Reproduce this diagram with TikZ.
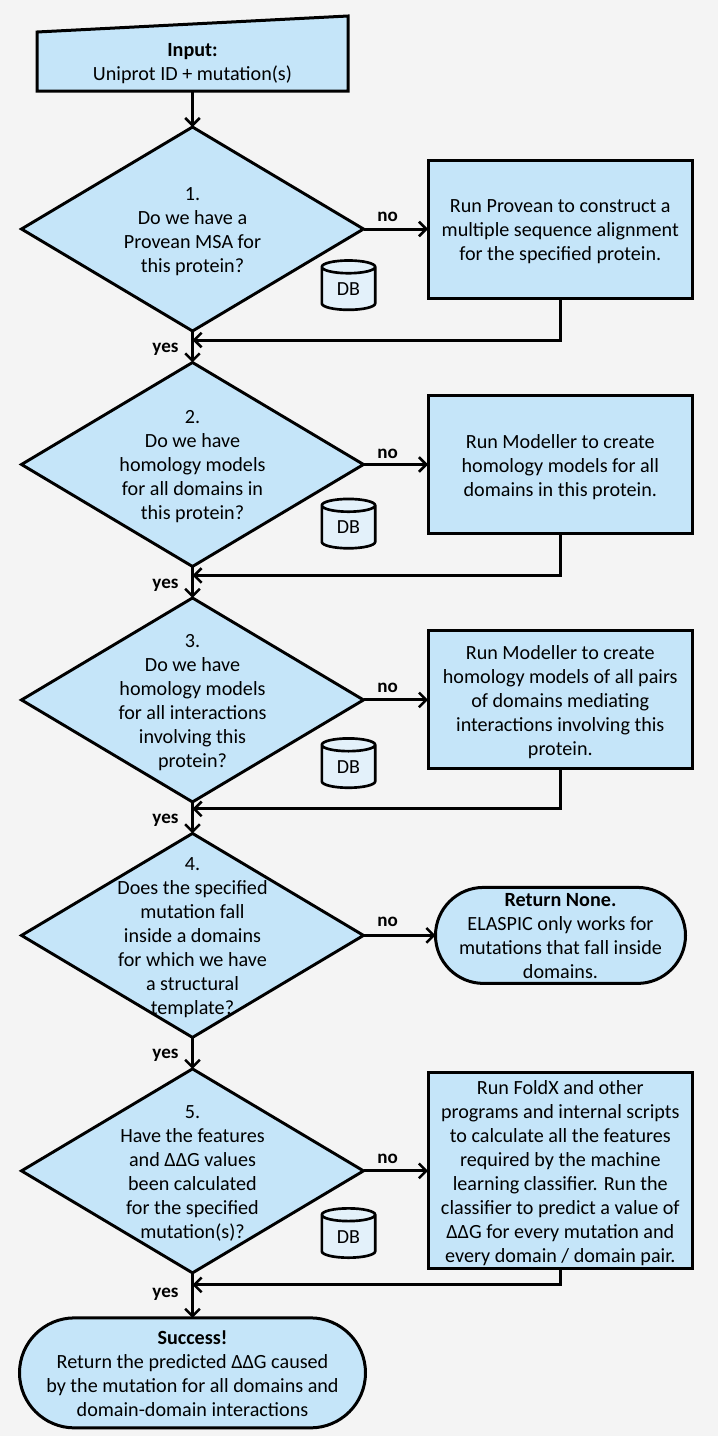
\documentclass[tikz,border=0pt]{standalone}
\usepackage{xcolor}
\usepackage{fontspec}
\setmainfont{Carlito}
\usetikzlibrary{calc,positioning,arrows.meta,shapes.geometric,shapes.misc}
\definecolor{pageGrey}{HTML}{F4F4F4}
\definecolor{flowBlue}{HTML}{C5E5F9}
\definecolor{dbBlue}{HTML}{E3F1FA}

\begin{document}
\begin{tikzpicture}[x=0.75pt, y=-0.75pt, node distance=23.6pt, font=\fontsize{15.1}{18}\selectfont]
  \tikzset{
    flowText/.style={align=center, inner sep=0pt, outer sep=0pt, yshift=-1.8pt},
    flowDiamond/.style={diamond, draw=black, fill=flowBlue, line width=2.2pt, inner sep=0pt, outer sep=0pt, aspect=1.68, minimum width=256.5pt, minimum height=153pt},
    flowBox/.style={draw=black, fill=flowBlue, line width=2.25pt, outer sep=0pt, inner sep=0pt, minimum width=198.4pt, minimum height=103.5pt},
    flowOval/.style={rounded rectangle, draw=black, fill=flowBlue, line width=2.25pt, outer sep=0pt, inner sep=0pt},
    flowDb/.style={cylinder, shape border rotate=90, aspect=0.55, draw=black, fill=dbBlue, line width=2pt, inner sep=0pt, outer sep=0pt, minimum width=40pt, minimum height=37pt, font=\fontsize{15}{16}\selectfont},
    flowLabel/.style={inner sep=0pt, font=\fontsize{14.3}{16}\selectfont\bfseries},
    flowArrow/.style={draw=black, line width=2.25pt, -{Straight Barb[length=5.5pt,width=11pt,line width=1.9pt]}}
  }

  % --- Page ---
  \fill[pageGrey] (0,0) rectangle (718,1436);
  \useasboundingbox (0,0) rectangle (718,1436);

% --- Input Node ---
  % Slanted top edge is drawn from the anchors of the plain node
  \node[inner sep=0pt, outer sep=0pt, minimum width=233.25pt, minimum height=44.25pt] (input) at (192.5,61.5) {};
  \draw[fill=flowBlue, line width=2.25pt, line join=miter] (input.south west) -- (input.north west) -- ($(input.north east)+(0,-16)$) -- (input.south east) -- cycle;
  \node[flowText] (input-text) at (input.center) {\textbf{Input:}\\Uniprot ID + mutation(s)};

  % --- Question diamonds, top to bottom ---
  \node[flowDiamond, below=27pt of input] (q1) {};
  \node[flowDiamond, below=of q1] (q2) {};
  \node[flowDiamond, below=of q2] (q3) {};
  \node[flowDiamond, below=of q3] (q4) {};
  \node[flowDiamond, below=of q4] (q5) {};
  \node[flowOval, below=33.75pt of q5, minimum width=259.5pt, minimum height=82.5pt] (success) {};

  \node[flowText] (q1-text) at (q1.center) {1.\\Do we have a\\Provean MSA for\\this protein?};
  \node[flowText] (q2-text) at (q2.center) {2.\\Do we have\\homology models\\for all domains in\\this protein?};
  \node[flowText] (q3-text) at (q3.center) {3.\\Do we have\\homology models\\for all interactions\\involving this\\protein?};
  \node[flowText] (q4-text) at (q4.center) {4.\\Does the specified\\mutation fall\\inside a domains\\for which we have\\a structural\\template?};
  \node[flowText] (q5-text) at (q5.center) {5.\\Have the features\\and ΔΔG values\\been calculated\\for the specified\\mutation(s)?};
  \node[flowText, yshift=1.5pt] (success-text) at (success.center) {\textbf{Success!}\\Return the predicted ΔΔG caused\\by the mutation for all domains and\\domain-domain interactions};

  % --- Boxes on the right ---
  \node[flowBox, right=48.4pt of q1] (run1) {};
  \node[flowBox, right=48.4pt of q2] (run2) {};
  \node[flowBox, right=48.4pt of q3] (run3) {};
  \node[flowOval, right=54pt of q4, minimum width=187.5pt, minimum height=72pt] (none) {};
  \node[flowBox, right=48.4pt of q5, minimum height=147pt] (run5) {};

  \node[flowText] (run1-text) at (run1.center) {Run Provean to construct a\\multiple sequence alignment\\for the specified protein.};
  \node[flowText] (run2-text) at (run2.center) {Run Modeller to create\\homology models for all\\domains in this protein.};
  \node[flowText] (run3-text) at (run3.center) {Run Modeller to create\\homology models of all pairs\\of domains mediating\\interactions involving this\\protein.};
  \node[flowText, yshift=1.5pt] (none-text) at (none.center) {\textbf{Return None.}\\ELASPIC only works for\\mutations that fall inside\\domains.};
  \node[flowText] (run5-text) at (run5.center) {Run FoldX and other\\programs and internal scripts\\to calculate all the features\\required by the machine\\learning classifier. Run the\\classifier to predict a value of\\ΔΔG for every mutation and\\every domain / domain pair.};

  % --- DB cylinders ---
  \node[flowDb] (db1) at ($(q1.center)+(156,60)$) {DB};
  \node[flowDb] (db2) at ($(q2.center)+(156,63)$) {DB};
  \node[flowDb] (db3) at ($(q3.center)+(156,67)$) {DB};
  \node[flowDb] (db5) at ($(q5.center)+(156,66)$) {DB};

  % Merge points on the vertical line under each diamond
  \coordinate (merge1) at ($(q1.south)+(0,9)$);
  \coordinate (merge2) at ($(q2.south)+(0,9)$);
  \coordinate (merge3) at ($(q3.south)+(0,7)$);
  \coordinate (merge5) at ($(q5.south)+(0,12)$);

  % --- Connectors ---
  \draw[flowArrow] (input.south) -- (q1.north);
  \draw[flowArrow] (q1.south) -- (q2.north);
  \draw[flowArrow] (q2.south) -- (q3.north);
  \draw[flowArrow] (q3.south) -- (q4.north);
  \draw[flowArrow] (q4.south) -- (q5.north);
  \draw[flowArrow] (q5.south) -- (success.north);

  \draw[flowArrow] (q1.east) -- (run1.west);
  \draw[flowArrow] (q2.east) -- (run2.west);
  \draw[flowArrow] (q3.east) -- (run3.west);
  \draw[flowArrow] (q4.east) -- (none.west);
  \draw[flowArrow] (q5.east) -- (run5.west);

  \draw[flowArrow] (run1.south) |- (merge1);
  \draw[flowArrow] (run2.south) |- (merge2);
  \draw[flowArrow] (run3.south) |- (merge3);
  \draw[flowArrow] (run5.south) |- (merge5);

  % --- Yes / no labels ---
  \node[flowLabel] (yes1) at ($(q1.south)+(-27,18)$) {yes};
  \node[flowLabel] (yes2) at ($(q2.south)+(-27,19)$) {yes};
  \node[flowLabel] (yes3) at ($(q3.south)+(-27,18)$) {yes};
  \node[flowLabel] (yes4) at ($(q4.south)+(-27,18)$) {yes};
  \node[flowLabel] (yes5) at ($(q5.south)+(-27,21)$) {yes};
  \node[flowLabel] (no1) at ($(q1.east)+(24,-12)$) {no};
  \node[flowLabel] (no2) at ($(q2.east)+(24,-11)$) {no};
  \node[flowLabel] (no3) at ($(q3.east)+(24,-12)$) {no};
  \node[flowLabel] (no4) at ($(q4.east)+(24,-14)$) {no};
  \node[flowLabel] (no5) at ($(q5.east)+(24,-12)$) {no};

\end{tikzpicture}
\end{document}
